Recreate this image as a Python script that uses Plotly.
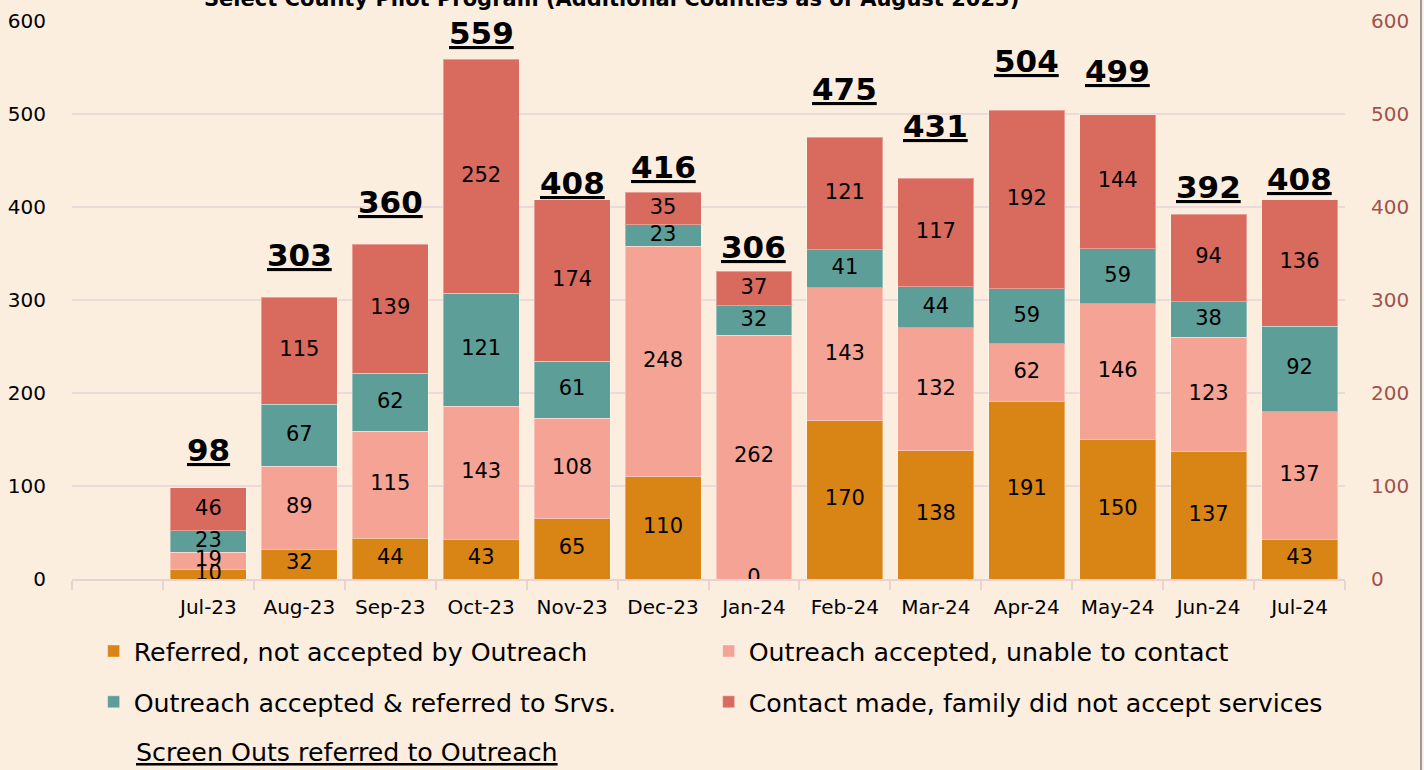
import plotly.graph_objects as go

months = ["Jul-23", "Aug-23", "Sep-23", "Oct-23", "Nov-23", "Dec-23", "Jan-24",
          "Feb-24", "Mar-24", "Apr-24", "May-24", "Jun-24", "Jul-24"]
referred_not_accepted = [10, 32, 44, 43, 65, 110, 0, 170, 138, 191, 150, 137, 43]
unable_to_contact = [19, 89, 115, 143, 108, 248, 262, 143, 132, 62, 146, 123, 137]
referred_to_srvs = [23, 67, 62, 121, 61, 23, 32, 41, 44, 59, 59, 38, 92]
did_not_accept = [46, 115, 139, 252, 174, 35, 37, 121, 117, 192, 144, 94, 136]
totals = [98, 303, 360, 559, 408, 416, 306, 475, 431, 504, 499, 392, 408]

series_names = ["Referred, not accepted by Outreach",
                "Outreach accepted, unable to contact",
                "Outreach accepted & referred to Srvs.",
                "Contact made, family did not accept services"]
series_values = [referred_not_accepted, unable_to_contact, referred_to_srvs, did_not_accept]
series_colors = ["#D98516", "#F4A394", "#5E9E98", "#D96A5E"]
legend_ids = ["legend", "legend", "legend2", "legend2"]

# styling: extra pixel lift of each total label above its bar (as placed in the original)
total_label_lift = [18, 22, 22, 6, -3, 5, 4, 28, 32, 29, 24, 7, 1]

FONT = "DejaVu Sans"
BG = "#FCEEDF"
categories = [" "] + months

fig = go.Figure()
for name, vals, col, lg in zip(series_names, series_values, series_colors, legend_ids):
    fig.add_trace(go.Bar(
        x=months, y=vals, name=name, legend=lg,
        marker=dict(color=col, line=dict(color="rgba(255,255,255,0.35)", width=1)),
        hoverinfo="skip",
    ))

# segment value labels, drawn on top of all bars (at each segment's middle)
base = [0] * len(months)
for vals in series_values:
    mids = [b + v / 2 for b, v in zip(base, vals)]
    fig.add_trace(go.Scatter(
        x=months, y=mids, mode="text", text=[str(v) for v in vals],
        textposition="middle center", showlegend=False, hoverinfo="skip",
        textfont=dict(family=FONT, size=21, color="black"),
    ))
    base = [b + v for b, v in zip(base, vals)]
stack_tops = base

# right axis (same scale)
fig.add_trace(go.Scatter(x=months, y=stack_tops, yaxis="y2", mode="none",
                         showlegend=False, hoverinfo="skip"))

for m, top, t, lift in zip(months, stack_tops, totals, total_label_lift):
    fig.add_annotation(
        x=m, y=top, xref="x", yref="y", text=str(t), showarrow=False,
        xanchor="center", yanchor="bottom", yshift=lift,
        font=dict(family=FONT, size=31, color="black", weight="bold", lineposition="under"))

fig.update_layout(
    width=1424, height=770,
    barmode="stack", bargap=0.165,
    paper_bgcolor=BG, plot_bgcolor=BG,
    margin=dict(l=72, r=79, t=21, b=191, autoexpand=False),
    font=dict(family=FONT, size=20, color="black"),
    xaxis=dict(type="category", categoryorder="array", categoryarray=categories,
               range=[-0.5, len(categories) - 0.5], automargin=False,
               showline=True, linecolor="#E8D3D3", linewidth=2,
               ticks="outside", tickson="boundaries", ticklen=9, tickcolor="#E8D3D3", tickwidth=2,
               ticklabelstandoff=9,
               tickfont=dict(family=FONT, size=20, color="black"), showgrid=False),
    yaxis=dict(range=[0, 600], dtick=100, showgrid=True, gridcolor="#EDD9D9", gridwidth=2,
               zeroline=False, automargin=False,
               tickfont=dict(family=FONT, size=20, color="black"),
               ticklabelstandoff=25),
    yaxis2=dict(range=[0, 600], dtick=100, overlaying="y", side="right", showgrid=False,
                zeroline=False, automargin=False,
                tickfont=dict(family=FONT, size=20, color="#A0524D"),
                ticklabelstandoff=25),
    legend=dict(orientation="h", x=0.017, xanchor="left", y=-0.088, yanchor="top",
                entrywidth=570, entrywidthmode="pixels", bgcolor="rgba(0,0,0,0)",
                font=dict(family=FONT, size=25.3, color="black"), traceorder="normal"),
    legend2=dict(orientation="h", x=0.017, xanchor="left", y=-0.179, yanchor="top",
                 entrywidth=570, entrywidthmode="pixels", bgcolor="rgba(0,0,0,0)",
                 font=dict(family=FONT, size=25.3, color="black"), traceorder="normal"),
    showlegend=True,
)

fig.add_annotation(
    text="Select County Pilot Program (Additional Counties as of August 2023)*",
    xref="paper", yref="paper", x=(617 - 72) / 1273, y=1, yshift=22, xanchor="center",
    yanchor="middle", showarrow=False,
    font=dict(family=FONT, size=21, color="black", weight="bold"))

fig.add_annotation(
    text="Screen Outs referred to Outreach",
    xref="paper", yref="paper", x=(134 - 72) / 1273, y=0, yshift=-173, xanchor="left",
    yanchor="middle", showarrow=False,
    font=dict(family=FONT, size=25.3, color="black", lineposition="under"))

fig.add_shape(type="line", xref="paper", yref="paper", x0=(1421 - 72) / 1273,
              x1=(1421 - 72) / 1273, y0=-0.4, y1=1.1,
              line=dict(color="#9A9A9A", width=2))

fig.write_html(
    "out.html",
    config={"displayModeBar": False},
    post_script="document.body.style.margin='0';document.body.style.background='%s';"
                "document.body.style.overflow='hidden';" % BG,
)
